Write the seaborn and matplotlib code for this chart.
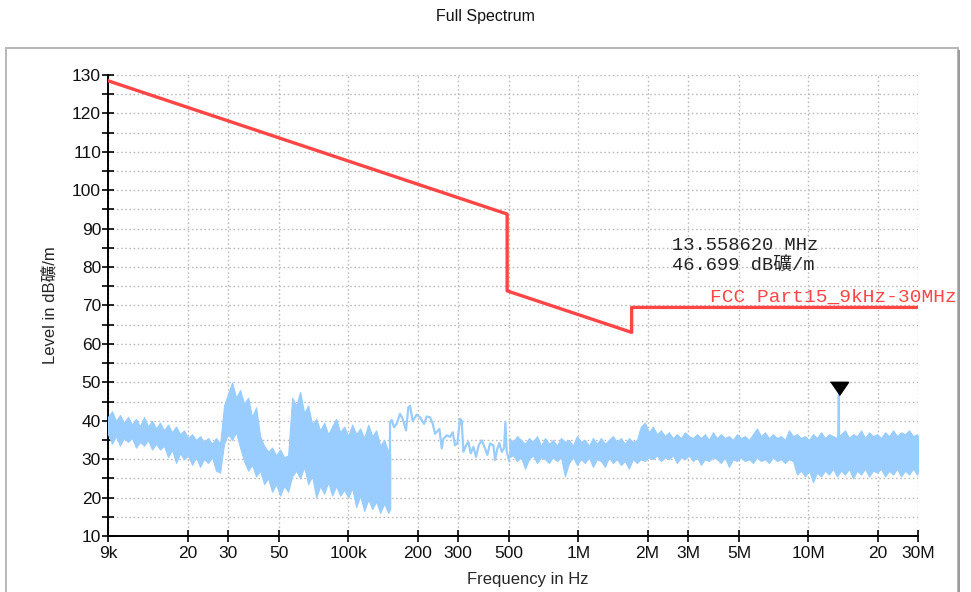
import matplotlib
matplotlib.use("Agg")
import matplotlib.pyplot as plt
from matplotlib.patches import Rectangle
from matplotlib.ticker import FixedLocator, MultipleLocator, NullFormatter
import pandas as pd
import seaborn as sns

# ---- FCC Part 15 limit line, 9 kHz - 30 MHz (dBuV/m at 3 m) ----
limit_freq_hz = [9e3, 490e3, 490e3, 1.705e6, 1.705e6, 30e6]
limit_level_db = [128.5, 93.8, 73.8, 63.0, 69.5, 69.5]
limit_name = "FCC Part15_9kHz-30MHz"

# ---- measured trace, dense part 9 kHz - 152 kHz (lower / upper envelope) ----
band1_freq_khz = [9.0, 9.37, 9.75, 10.15, 10.56, 11.0, 11.45, 11.91, 12.4, 12.91,
                  13.44, 13.99, 14.56, 15.15, 15.77, 16.42, 17.09, 17.79, 18.52, 19.27,
                  20.06, 20.88, 21.74, 22.63, 23.55, 24.51, 25.52, 26.56, 27.65, 28.78,
                  29.96, 31.18, 32.46, 33.79, 35.17, 36.61, 38.1, 39.66, 41.29, 42.97,
                  44.73, 46.56, 48.47, 50.45, 52.51, 54.66, 56.9, 59.23, 61.65, 64.17,
                  66.8, 69.53, 72.38, 75.34, 78.42, 81.63, 84.97, 88.45, 92.07, 95.84,
                  99.76, 103.8, 108.1, 112.5, 117.1, 121.9, 126.9, 132.1, 137.5, 143.1,
                  149.0, 152.0]
band1_hi_db = [41, 42.5, 40, 41.5, 39.5, 41, 39, 40.5, 38.5, 41,
               38.5, 40, 38, 39.5, 37.5, 39, 37, 38.5, 36.5, 37.5,
               35.5, 36.5, 35, 36, 34.5, 35.5, 34, 35.5, 34, 44,
               47, 50, 46, 48, 44.5, 46, 41, 43.5, 36, 33.5,
               32, 33, 31, 32.5, 30.5, 31, 46, 44, 47.5, 42,
               44, 39, 40.5, 37.5, 39.5, 36.5, 38.5, 40.5, 37, 38.5,
               36, 39, 36.5, 38, 35.5, 39, 36, 37.5, 33.5, 35,
               32, 31.5]
band1_lo_db = [36.5, 34, 36, 33.5, 35.5, 34.5, 35.5, 33, 34.5, 33.5,
               35, 32.5, 34, 32.5, 33.5, 30.5, 32.5, 29, 31.5, 30,
               31, 28.5, 30.5, 28, 30, 29, 30.5, 27, 26.5, 34,
               36.5, 35, 37, 33, 29.5, 27, 28.5, 25.5, 27, 23.5,
               25, 21.5, 23.5, 20.5, 23, 21.5, 25.5, 27, 25, 28,
               23.5, 25.5, 20, 23, 21, 24, 20.5, 23, 20.5, 22,
               20, 22.5, 17.5, 20.5, 16.5, 19.5, 17, 19, 16, 18.5,
               16, 17]

# ---- measured trace, single sweep line 152 kHz - 500 kHz ----
trace_freq_khz = [151.5, 151.7, 154.2, 157.9, 162.1, 167.6, 172.1, 178.0, 182.2, 185.3,
                  190.3, 198.1, 204.8, 213.2, 219.0, 226.4, 232.6, 238.1, 248.6, 254.5,
                  258.8, 267.6, 276.6, 284.0, 290.8, 297.6, 305.7, 310.9, 316.1, 324.6,
                  332.4, 340.3, 349.5, 358.9, 368.6, 379.9, 392.8, 402.0, 412.9, 427.0,
                  434.2, 444.4, 453.4, 464.1, 475.1, 481.5, 488.0, 501.2]
trace_level_db = [31.0, 39.6, 40.2, 38.3, 39.2, 41.8, 40.5, 37.5, 43.5, 43.9,
                  39.9, 41.6, 40.9, 39.2, 41.1, 40.9, 39.2, 36.6, 37.9, 32.8,
                  35.3, 36.2, 35.8, 37.0, 33.6, 34.1, 40.5, 40.0, 31.9, 33.6,
                  34.5, 31.5, 33.2, 30.6, 33.6, 34.9, 32.8, 31.1, 34.1, 33.6,
                  29.8, 32.8, 34.2, 31.9, 32.8, 39.6, 31.9, 29.4]

# ---- measured trace, dense part 500 kHz - 30 MHz (lower / upper envelope) ----
band2_freq_khz = [500, 520, 541, 563, 586, 610, 635, 661, 688, 716,
                  745, 775, 807, 840, 874, 910, 947, 986, 1026, 1068,
                  1112, 1157, 1204, 1253, 1305, 1358, 1413, 1471, 1531, 1594,
                  1659, 1727, 1797, 1871, 1947, 2027, 2110, 2196, 2286, 2379,
                  2476, 2577, 2683, 2792, 2907, 3025, 3149, 3278, 3412, 3551,
                  3696, 3848, 4005, 4169, 4339, 4517, 4701, 4894, 5094, 5302,
                  5519, 5745, 5980, 6225, 6479, 6744, 7020, 7307, 7606, 7917,
                  8241, 8578, 8929, 9294, 9674, 10070, 10482, 10910, 11357, 11821,
                  12305, 12808, 13332, 13877, 14445, 15036, 15651, 16291, 16957, 17651,
                  18373, 19124, 19906, 20720, 21568, 22450, 23368, 24324, 25319, 26355,
                  27433, 28555, 29723, 30000]
band2_hi_db = [35.5, 34.5, 36, 35, 34, 35.5, 34.5, 36, 33.5, 35.5,
               34, 35, 33.5, 35.5, 34.5, 35, 33.5, 36, 34.5, 35,
               33.5, 35.5, 34, 35.5, 34, 35, 36, 34.5, 35.5, 34,
               35.5, 34.5, 35, 38.5, 39.5, 37, 38.5, 36.5, 37.5, 36,
               37, 35.5, 36.5, 35.5, 37, 36, 35.5, 36.5, 35.5, 36.5,
               35, 37, 35.5, 36.5, 35.5, 36, 35, 36.5, 35.5, 36,
               35, 36.5, 38, 36, 37, 35.5, 36.5, 35.5, 36, 35,
               37.5, 36, 36.5, 35.5, 36, 35, 36.5, 35.5, 37, 35.5,
               36.5, 36, 35.5, 36.5, 37.5, 35.5, 36.5, 36, 37.5, 35.5,
               37, 36, 36.5, 35.5, 37, 36, 37.5, 36, 37, 36.5,
               37.5, 36, 36.5, 36]
band2_lo_db = [30.5, 31, 29.5, 30.5, 27.5, 30, 31, 29, 30.5, 30,
               29, 30.5, 29.5, 30.5, 25.5, 29, 30.5, 28.5, 30, 29,
               30.5, 28, 30, 29.5, 28, 30.5, 29, 30, 28.5, 29.5,
               27.5, 30, 29, 30, 29.5, 30.5, 30, 31, 29.5, 30.5,
               30, 31, 29, 30.5, 30, 31, 29.5, 30.5, 28.5, 30,
               29.5, 30.5, 30, 29, 30.5, 28, 30, 29.5, 30.5, 29.5,
               30, 29, 30.5, 29.5, 30, 29, 30.5, 29.5, 30, 29,
               30, 29.5, 26, 27, 25.5, 27, 24, 26.5, 25.5, 27,
               26, 27.5, 25.5, 27, 26, 27.5, 25, 27, 26, 27.5,
               25.5, 27, 26.5, 27.5, 25.5, 27, 26, 27.5, 25.5, 27,
               26, 27.5, 26, 26.5]

# ---- peak marker ----
marker_freq_hz = 13.558620e6
marker_level_db = 46.699
spike_base_db = 35.5

# ---- axes ticks ----
x_ticks_hz = [9e3, 20e3, 30e3, 50e3, 100e3, 200e3, 300e3, 500e3,
              1e6, 2e6, 3e6, 5e6, 10e6, 20e6, 30e6]
x_tick_labels = ["9k", "20", "30", "50", "100k", "200", "300", "500",
                 "1M", "2M", "3M", "5M", "10M", "20", "30M"]
y_ticks = [10, 20, 30, 40, 50, 60, 70, 80, 90, 100, 110, 120, 130]

RED = "#ff4545"
BLUE = "#99ccff"

sns.set_theme(style="white")
plt.rcParams["font.family"] = ["Liberation Sans", "Noto Sans CJK JP", "DejaVu Sans"]

fig = plt.figure(figsize=(9.71, 5.92), dpi=100)
ax = fig.add_axes([108 / 971, 1 - 536 / 592, 810 / 971, 461 / 592])

# outer frame around the plot
fig.patches.append(Rectangle((6 / 971, -0.02), 952 / 971, 1.02 - 48 / 592,
                             transform=fig.transFigure, fill=False,
                             edgecolor="#b8b8b8", linewidth=1.4))
fig.patches.append(Rectangle((958 / 971, -0.02), 1.5 / 971, 1.02 - 50 / 592,
                             transform=fig.transFigure, facecolor="#9a9a9a",
                             edgecolor="none"))

ax.set_xscale("log")

# measured trace
b1 = pd.DataFrame({"f": [v * 1e3 for v in band1_freq_khz], "lo": band1_lo_db, "hi": band1_hi_db})
b2 = pd.DataFrame({"f": [v * 1e3 for v in band2_freq_khz], "lo": band2_lo_db, "hi": band2_hi_db})
for b in (b1, b2):
    ax.fill_between(b["f"], b["lo"], b["hi"], color=BLUE, linewidth=0.8,
                    edgecolor=BLUE, zorder=3)
tr = pd.DataFrame({"f": [v * 1e3 for v in trace_freq_khz], "level": trace_level_db})
sns.lineplot(data=tr, x="f", y="level", estimator=None, sort=False,
             color=BLUE, linewidth=1.6, ax=ax, zorder=3)
spike = pd.DataFrame({"f": [marker_freq_hz * 0.994, marker_freq_hz, marker_freq_hz * 1.006],
                      "level": [spike_base_db, marker_level_db, spike_base_db]})
sns.lineplot(data=spike, x="f", y="level", estimator=None, sort=False,
             color=BLUE, linewidth=1.4, ax=ax, zorder=3)

# limit line
lim = pd.DataFrame({"f": limit_freq_hz, "level": limit_level_db})
sns.lineplot(data=lim, x="f", y="level", estimator=None, sort=False,
             color=RED, linewidth=2.4, ax=ax, zorder=4)

# peak marker (apex on the measured value)
ax.plot([marker_freq_hz], [marker_level_db], linestyle="none",
        marker=[(-0.69, 1.0), (0.69, 1.0), (0.0, 0.0)], markersize=19,
        color="black", zorder=5, clip_on=False)

mono = ["Liberation Mono", "Noto Sans CJK JP", "DejaVu Sans"]
ax.text(2.55e6, 85.7, f"{marker_freq_hz / 1e6:.6f} MHz", fontsize=13.5,
        family=mono, color="#222222", va="center", ha="left", zorder=6)
ax.text(2.55e6, 80.5, f"{marker_level_db:.3f} dB礦/m", fontsize=13.5,
        family=mono, color="#222222", va="center", ha="left", zorder=6)
ax.text(3.74e6, 72.2, limit_name, fontsize=14, family=mono, color=RED,
        va="center", ha="left", zorder=6, clip_on=False)

# axes
ax.set_xlim(9e3, 30e6)
ax.set_ylim(10, 130)
ax.set_xticks(x_ticks_hz)
ax.set_xticklabels(x_tick_labels)
ax.xaxis.set_minor_formatter(NullFormatter())
ax.xaxis.set_minor_locator(FixedLocator([]))
ax.set_yticks(y_ticks)
ax.yaxis.set_minor_locator(MultipleLocator(5))

ax.grid(which="major", axis="x", color="#bdbdbd", linestyle=(0, (1.2, 1.8)), linewidth=1.0)
ax.grid(which="both", axis="y", color="#bdbdbd", linestyle=(0, (1.2, 1.8)), linewidth=1.0)
ax.set_axisbelow(True)

for side in ("top", "right"):
    ax.spines[side].set_visible(False)
for side in ("left", "bottom"):
    ax.spines[side].set_color("black")
    ax.spines[side].set_linewidth(1.4)

ax.tick_params(axis="both", which="both", direction="inout", length=8, width=1.2,
               color="black", labelsize=12.5, labelcolor="#111111")
ax.tick_params(axis="y", which="both", left=True, pad=1)
ax.tick_params(axis="x", which="major", bottom=True, pad=3)

ax.set_xlabel("Frequency in Hz", fontsize=12)
ax.set_ylabel("Level in dB礦/m", fontsize=12)
ax.xaxis.set_label_coords((528 - 108) / 810, (536 - 572) / 461)
ax.yaxis.set_label_coords((57 - 108) / 810, (536 - 305) / 461)

fig.text(485 / 971, 1 - 16 / 592, "Full Spectrum", fontsize=11.5, ha="center",
         va="center", color="#111111")

fig.savefig("out.png", dpi=100, facecolor="white")
